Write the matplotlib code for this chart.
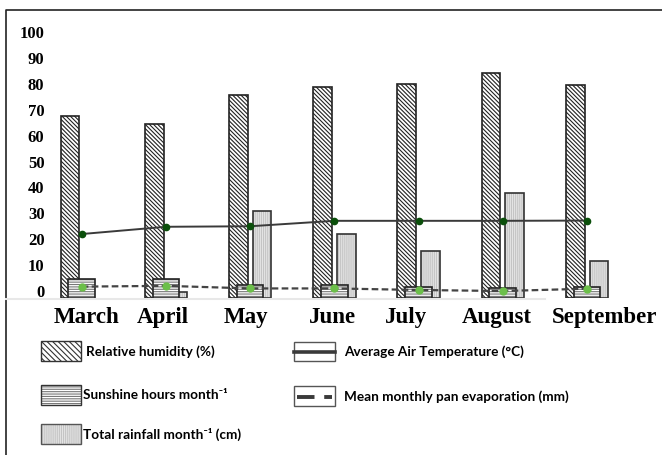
import numpy as np
import matplotlib
matplotlib.use('Agg')
from matplotlib import pyplot as plt
from matplotlib.patches import Rectangle
from matplotlib.lines import Line2D

#-------------------------------------------------

months    = ['March', 'April', 'May', 'June', 'July', 'August', 'September']
humidity  = [67.6, 64.4, 75.8, 78.9, 80.0, 84.0, 79.4]      # %
sunshine  = [4.6, 4.6, 2.3, 2.3, 1.7, 1.0, 1.4]             # hours month-1
rainfall  = [np.nan, -0.5, 31.0, 21.9, 15.4, 38.0, 11.7]    # cm month-1
air_temp  = [22.0, 24.8, 25.0, 27.1, 27.1, 27.1, 27.2]      # deg C
pan_evap  = [1.7, 2.0, 1.0, 1.0, 0.4, 0.0, 0.9]             # mm

yticks = list(range(0, 101, 10))

#-------------------------------------------------

W, H = 662., 455.
plt.rcParams['hatch.linewidth'] = 0.8

def fx(px):
    return px/W

def fy(py):
    return 1. - py/H

fig = plt.figure(figsize=(6.62, 4.55), dpi=100)

### axes geometry in pixels
ax_l, ax_r, ax_t, ax_b = 50., 645., 18., 297.5
ax = fig.add_axes([fx(ax_l), fy(ax_b), (ax_r-ax_l)/W, (ax_b-ax_t)/H])

floor = -2.5
ax.set_ylim(floor, 105.4)
ax.set_xlim(-0.3765, 6.69)
px_per_cat = (ax_r-ax_l)/(6.69+0.3765)

x = np.arange(len(months))

def height(vals):
    return np.array(vals, dtype=float) - floor

### rainfall (grey dotted)
ax.bar(x+0.142, height(rainfall), 0.22, bottom=floor, color='#e6e6e6',
       edgecolor='#c4c4c4', hatch='||||||||', linewidth=0, zorder=1)
ax.bar(x+0.142, height(rainfall), 0.22, bottom=floor, fill=False,
       edgecolor='#333333', linewidth=1.2, zorder=1.1)

### relative humidity (diagonal hatch)
ax.bar(x-0.139, height(humidity), 0.225, bottom=floor, color='white',
       edgecolor='#222222', hatch='\\'*8, linewidth=1.2, zorder=2)

### sunshine (horizontal lines)
ax.bar(x, height(sunshine), 0.317, bottom=floor, color='white',
       edgecolor='#777777', hatch='-'*7, linewidth=0, zorder=3)
ax.bar(x, height(sunshine), 0.317, bottom=floor, fill=False,
       edgecolor='#222222', linewidth=1.2, zorder=3.1)

### lines
ax.plot(x, air_temp, color='#3a3a3a', lw=1.4, marker='o', ms=4.5,
        mfc='#0b4f0b', mec='#0b4f0b', zorder=5)
ax.plot(x, pan_evap, color='#444444', lw=1.6, dashes=(3, 1.5), marker='o',
        ms=5, mfc='#6cbf4a', mec='#6cbf4a', zorder=5)

ax.set_yticks(yticks)
ax.set_yticklabels([str(t) for t in yticks], fontfamily='Liberation Serif',
                   fontweight='bold', fontsize=12)
ax.tick_params(axis='y', length=0, pad=4)
ax.set_xticks([])
for s in ax.spines.values():
    s.set_visible(False)

### month labels, nudged (px) like the hand placed labels of the original
nudge = [5, -3, -4, -2, -12, -6, 18]
for i, m in enumerate(months):
    ax.text(i + nudge[i]/px_per_cat, -0.035, m, transform=ax.get_xaxis_transform(),
            ha='center', va='top', fontfamily='Liberation Serif',
            fontweight='bold', fontsize=16.5)

#-------------------------------------------------

### outer frame and faint base line
fig.add_artist(Line2D([fx(6), fx(6), fx(662)], [fy(455), fy(10), fy(10)],
                      color='#222222', lw=1.2))
fig.add_artist(Line2D([fx(6), fx(545)], [fy(298.5), fy(298.5)],
                      color='#e8e8e8', lw=1.5))

### legend
lab_font = dict(family=['Lato', 'DejaVu Sans'], fontweight='bold',
                fontsize=9.8, va='center', ha='left')

def box(x0, y0, w, h, **kw):
    r = Rectangle((fx(x0), fy(y0+h)), w/W, h/H, transform=fig.transFigure, **kw)
    fig.add_artist(r)

box(41, 341, 40, 20, facecolor='white', edgecolor='#333333', hatch='\\'*6, lw=1.0)
fig.text(fx(86), fy(351.5), 'Relative humidity (%)', **lab_font)

box(41, 384.5, 40, 20, facecolor='white', edgecolor='#777777', hatch='-'*7, lw=0)
box(41, 384.5, 40, 20, fill=False, edgecolor='#333333', lw=1.0)
fig.text(fx(83), fy(395), 'Sunshine hours month\u207b\u00b9', **lab_font)

box(41, 423.5, 40, 20, facecolor='#e6e6e6', edgecolor='#c4c4c4', hatch='|'*8, lw=0)
box(41, 423.5, 40, 20, fill=False, edgecolor='#555555', lw=1.0)
fig.text(fx(83), fy(434.5), 'Total rainfall month\u207b\u00b9 (cm)', **lab_font)

box(294, 342, 41, 19, facecolor='white', edgecolor='#555555', lw=1.0)
fig.add_artist(Line2D([fx(294), fx(335)], [fy(351.5), fy(351.5)],
                      color='#3a3a3a', lw=2.6))
fig.text(fx(344), fy(351.5), 'Average Air Temperature (\u00b0C)', **lab_font)

box(294, 386, 41, 20, facecolor='white', edgecolor='#555555', lw=1.0)
fig.add_artist(Line2D([fx(297), fx(332)], [fy(396.5), fy(396.5)],
                      color='#3a3a3a', lw=2.8, dashes=(4.5, 2.5)))
fig.text(fx(344), fy(397), 'Mean monthly pan evaporation (mm)', **lab_font)

fig.savefig('out.png', dpi=100)
plt.close(fig)
